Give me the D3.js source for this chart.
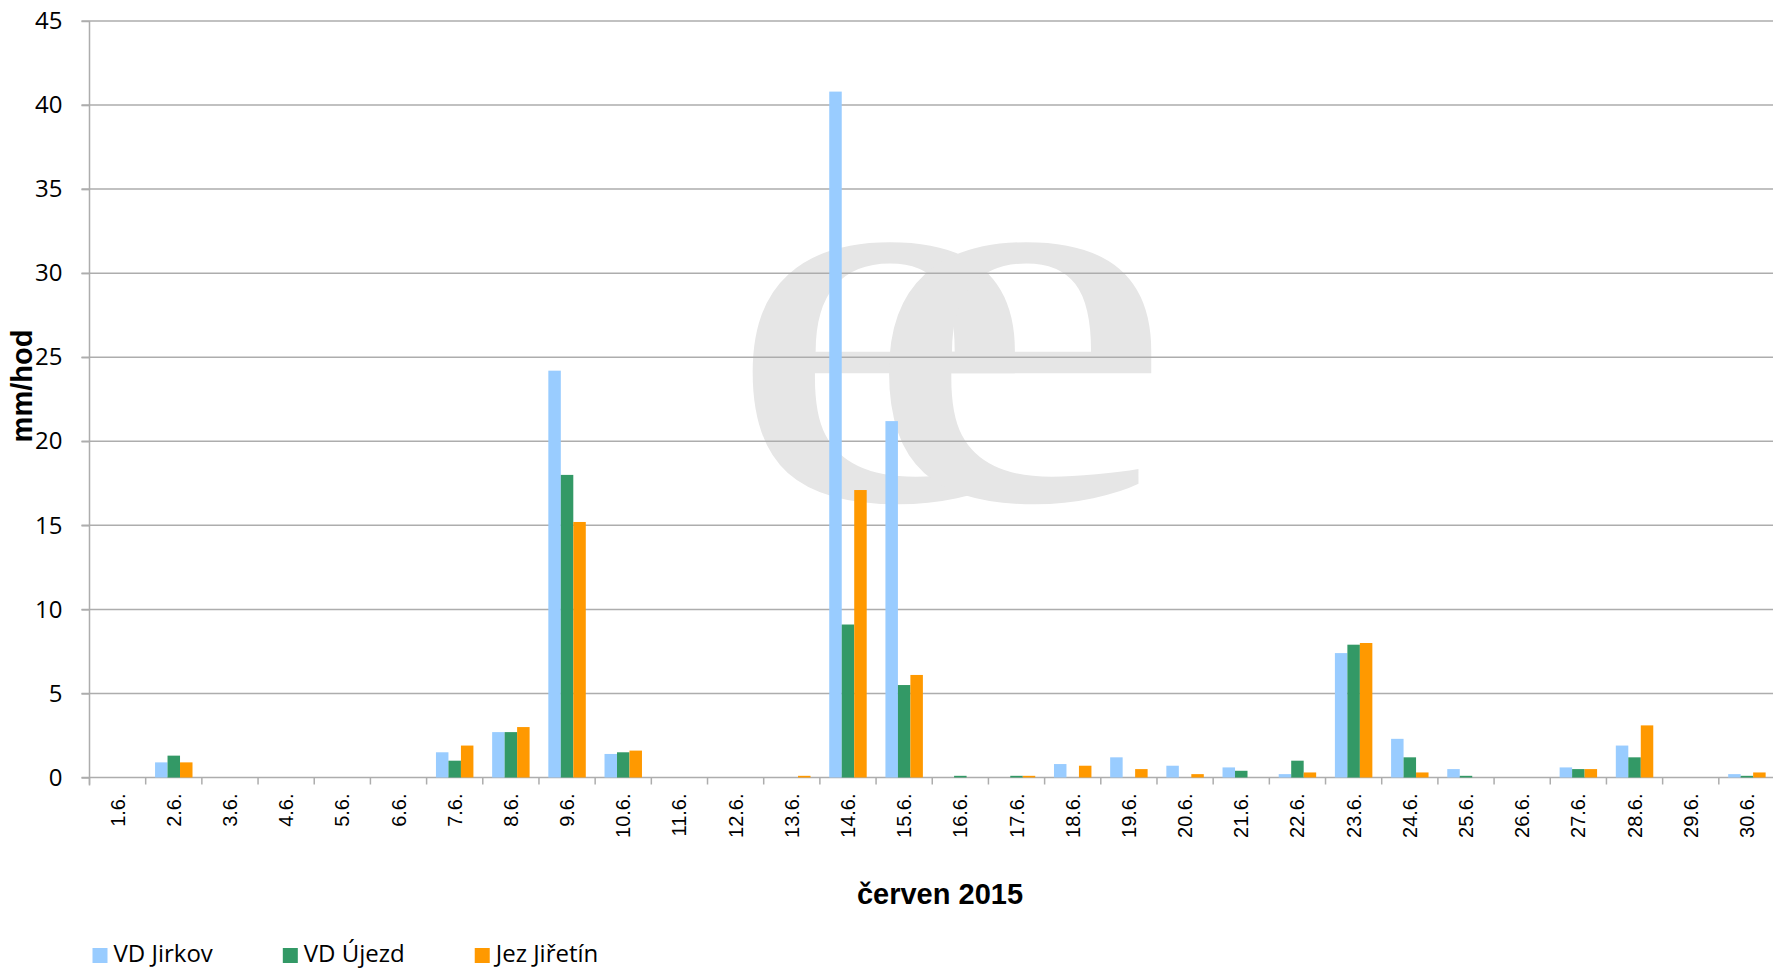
<!DOCTYPE html>
<html>
<head>
<meta charset="utf-8">
<script src="https://cdn.jsdelivr.net/npm/d3@7"></script>
<style>
  body { margin: 0; background: #fff; }
  svg { display: block; }
  .ylab text { font-family: 'Open Sans', sans-serif; font-size: 24px; fill: #000; }
  .xlab text { font-family: 'Liberation Sans', Arial, sans-serif; font-size: 20px; fill: #000; }
</style>
</head>
<body>
<svg id="chart"></svg>
<script>
'use strict';

// days of June 2015
var days = ['1.6.', '2.6.', '3.6.', '4.6.', '5.6.', '6.6.', '7.6.', '8.6.', '9.6.', '10.6.',
  '11.6.', '12.6.', '13.6.', '14.6.', '15.6.', '16.6.', '17.6.', '18.6.', '19.6.', '20.6.',
  '21.6.', '22.6.', '23.6.', '24.6.', '25.6.', '26.6.', '27.6.', '28.6.', '29.6.', '30.6.'];

var seriesNames = ['VD Jirkov', 'VD Újezd', 'Jez Jiřetín'];
var seriesColors = ['#99ccff', '#339966', '#ff9900'];

var jirkov  = [0, 0.9, 0, 0, 0, 0, 1.5, 2.7, 24.2, 1.4, 0, 0, 0, 40.8, 21.2, 0, 0, 0.8, 1.2, 0.7, 0.6, 0.2, 7.4, 2.3, 0.5, 0, 0.6, 1.9, 0, 0.2];
var ujezd   = [0, 1.3, 0, 0, 0, 0, 1.0, 2.7, 18.0, 1.5, 0, 0, 0, 9.1, 5.5, 0.1, 0.1, 0, 0, 0, 0.4, 1.0, 7.9, 1.2, 0.1, 0, 0.5, 1.2, 0, 0.1];
var jiretin = [0, 0.9, 0, 0, 0, 0, 1.9, 3.0, 15.2, 1.6, 0, 0, 0.1, 17.1, 6.1, 0, 0.1, 0.7, 0.5, 0.2, 0, 0.3, 8.0, 0.3, 0, 0, 0.5, 3.1, 0, 0.3];

var yTicks = [0, 5, 10, 15, 20, 25, 30, 35, 40, 45];
var xTitle = 'červen 2015';
var yTitle = 'mm/hod';

var W = 1773, H = 971;
var plotLeft = 89.5, plotTop = 21, plotBottom = 777.5, plotRight = 1775;

var svg = d3.select('#chart').attr('width', W).attr('height', H);

var x = d3.scaleBand().domain(days).range([plotLeft, plotRight]).padding(0);
var bw = x.bandwidth();
var xs = d3.scaleBand().domain(seriesNames).range([bw / 6, bw * 5 / 6]).padding(0);
var y = d3.scaleLinear().domain([0, 45]).range([plotBottom, plotTop]);

//Watermark logo (two overlapping serif e)
svg.append('text')
  .attr('transform', 'translate(725,499) scale(1.3,1)')
  .attr('fill', '#e6e6e6')
  .style('font-family', "'Liberation Serif', serif")
  .style('font-size', '545px')
  .style('letter-spacing', '-137px')
  .text('ee');

//Gridlines
svg.append('g').selectAll('line').data(yTicks).enter().append('line')
  .attr('x1', plotLeft - 8).attr('x2', plotRight)
  .attr('y1', function (d) { return y(d); }).attr('y2', function (d) { return y(d); })
  .attr('stroke', '#adadad').attr('stroke-width', 1.5);

//Bars
var rows = days.map(function (d, i) {
  return { day: d, values: [jirkov[i], ujezd[i], jiretin[i]] };
});

var groups = svg.append('g').selectAll('g').data(rows).enter().append('g')
  .attr('transform', function (d) { return 'translate(' + x(d.day) + ',0)'; });

groups.selectAll('rect').data(function (d) {
  return d.values.map(function (v, j) { return { name: seriesNames[j], value: v, color: seriesColors[j] }; });
}).enter().append('rect')
  .attr('x', function (d) { return xs(d.name); })
  .attr('width', xs.bandwidth())
  .attr('y', function (d) { return y(d.value); })
  .attr('height', function (d) { return y(0) - y(d.value); })
  .attr('fill', function (d) { return d.color; })
  .attr('display', function (d) { return d.value > 0 ? null : 'none'; });

//Y axis
var yAxis = svg.append('g').attr('class', 'ylab')
  .attr('transform', 'translate(' + plotLeft + ',0)')
  .call(d3.axisLeft(y).tickValues(yTicks).tickSize(8).tickPadding(19));
yAxis.selectAll('line').attr('stroke', '#adadad').attr('stroke-width', 1.5);
yAxis.select('.domain').attr('stroke', '#adadad').attr('stroke-width', 1.5)
  .attr('d', 'M0,' + plotTop + 'V' + (plotBottom + 8));

//X axis
var xAxis = svg.append('g').attr('class', 'xlab')
  .attr('transform', 'translate(0,' + plotBottom + ')')
  .call(d3.axisBottom(x).tickSize(0));
xAxis.select('.domain').remove();
xAxis.selectAll('text')
  .attr('transform', 'rotate(-90)')
  .attr('text-anchor', 'end')
  .attr('x', -16).attr('y', 0).attr('dy', '0.35em');

//Category boundary ticks
svg.append('g').selectAll('line').data(days.concat(['end'])).enter().append('line')
  .attr('x1', function (d) { return d === 'end' ? plotRight : x(d); })
  .attr('x2', function (d) { return d === 'end' ? plotRight : x(d); })
  .attr('y1', plotBottom).attr('y2', plotBottom + 7)
  .attr('stroke', '#adadad').attr('stroke-width', 1.5);

//Axis titles
svg.append('text').attr('x', 940).attr('y', 904)
  .attr('text-anchor', 'middle')
  .style('font-family', "'Liberation Sans', Arial, sans-serif")
  .style('font-size', '29px').style('font-weight', 'bold')
  .text(xTitle);

svg.append('text').attr('transform', 'translate(32,386) rotate(-90)')
  .attr('text-anchor', 'middle')
  .style('font-family', "'Liberation Sans', Arial, sans-serif")
  .style('font-size', '29px').style('font-weight', 'bold')
  .text(yTitle);

//Legend
var legend = svg.append('g').attr('transform', 'translate(92.5,944)');
var lx = 0;
seriesNames.forEach(function (name, i) {
  var item = legend.append('g').attr('transform', 'translate(' + lx + ',0)');
  item.append('rect').attr('y', 4).attr('width', 15).attr('height', 15).attr('fill', seriesColors[i]);
  var t = item.append('text').attr('x', 21).attr('y', 10).attr('dy', '0.35em')
    .style('font-family', "'Open Sans', sans-serif").style('font-size', '24px')
    .text(name);
  lx += 21 + t.node().getComputedTextLength() + 70;
});
</script>
</body>
</html>
